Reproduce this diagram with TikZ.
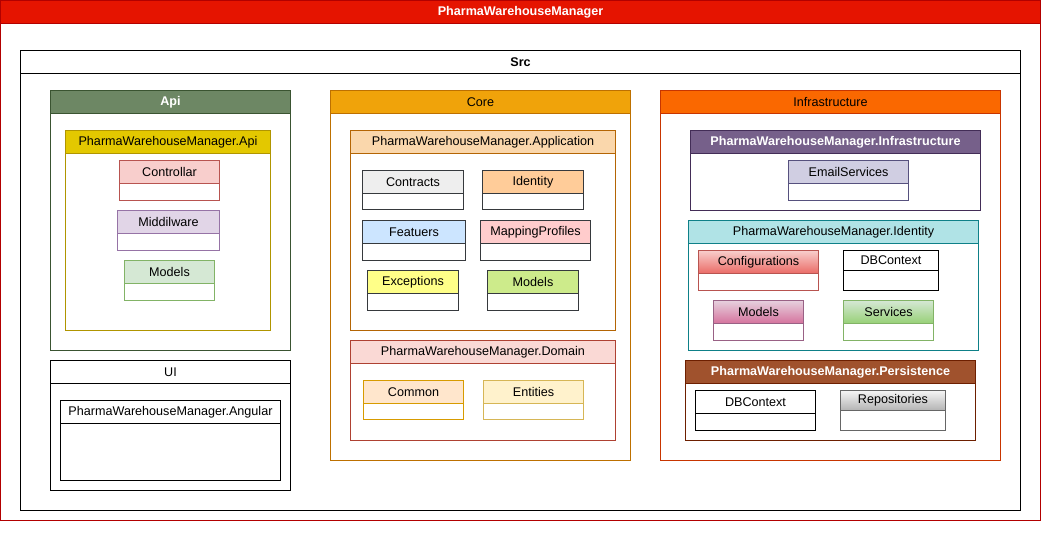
\documentclass[tikz,border=0pt]{standalone}
\usepackage{fontspec}
\setmainfont{Liberation Sans}
\usetikzlibrary{shadings}
\definecolor{cOuterF}{HTML}{E51400}\definecolor{cOuterS}{HTML}{B20000}
\definecolor{cApiF}{HTML}{6D8764}\definecolor{cApiS}{HTML}{3A5431}
\definecolor{cPApiF}{HTML}{E3C800}\definecolor{cPApiS}{HTML}{B09500}
\definecolor{cRedF}{HTML}{F8CECC}\definecolor{cRedS}{HTML}{B85450}
\definecolor{cPurF}{HTML}{E1D5E7}\definecolor{cPurS}{HTML}{9673A6}
\definecolor{cGrnF}{HTML}{D5E8D4}\definecolor{cGrnS}{HTML}{82B366}
\definecolor{cCoreF}{HTML}{F0A30A}\definecolor{cCoreS}{HTML}{BD7000}
\definecolor{cAppF}{HTML}{FAD7AC}\definecolor{cAppS}{HTML}{B46504}
\definecolor{cDark}{HTML}{36393D}
\definecolor{cGray}{HTML}{EEEEEE}\definecolor{cPeach}{HTML}{FFCC99}
\definecolor{cBlue}{HTML}{CCE5FF}\definecolor{cPink}{HTML}{FFCCCC}
\definecolor{cYel}{HTML}{FFFF88}\definecolor{cLime}{HTML}{CDEB8B}
\definecolor{cDomF}{HTML}{FAD9D5}\definecolor{cDomS}{HTML}{AE4132}
\definecolor{cComF}{HTML}{FFE6CC}\definecolor{cComS}{HTML}{D79B00}
\definecolor{cEntF}{HTML}{FFF2CC}\definecolor{cEntS}{HTML}{D6B656}
\definecolor{cInfF}{HTML}{FA6800}\definecolor{cInfS}{HTML}{C73500}
\definecolor{cPInfF}{HTML}{76608A}\definecolor{cPInfS}{HTML}{432D57}
\definecolor{cEmF}{HTML}{D0CEE2}\definecolor{cEmS}{HTML}{56517E}
\definecolor{cIdF}{HTML}{B0E3E6}\definecolor{cIdS}{HTML}{0E8088}
\definecolor{cConfB}{HTML}{EA6B66}
\definecolor{cMdT}{HTML}{E6D0DE}\definecolor{cMdB}{HTML}{D5739D}\definecolor{cMdS}{HTML}{996185}
\definecolor{cSvB}{HTML}{97D077}
\definecolor{cPerF}{HTML}{A0522D}\definecolor{cPerS}{HTML}{6D1F00}
\definecolor{cRepT}{HTML}{F5F5F5}\definecolor{cRepB}{HTML}{B3B3B3}\definecolor{cRepS}{HTML}{666666}
\newcommand{\boxfont}{\fontsize{12.6}{14}\selectfont}
\tikzset{
  boxbody/.style={anchor=north west, inner sep=0pt, outer sep=0pt, line width=1pt, fill=white, rectangle},
  boxhead/.style={anchor=north west, inner sep=0pt, outer sep=0pt, line width=1pt, rectangle, text=black,
    font=\boxfont},
  whitebold/.style={text=white, font=\boxfont\bfseries},
}
\newcommand{\cbox}[9]{%
  \node[boxbody, draw=#7, minimum width=#4pt, minimum height=#5pt] (#1) at (#2,#3) {};
  \node[boxhead, draw=#7, minimum width=#4pt, minimum height=#6pt, #8] (#1-h) at (#2,#3) {#9};
}
\begin{document}
\begin{tikzpicture}[x=1pt,y=-1pt]
\useasboundingbox[fill=white] (-0.5,-0.5) rectangle (1040.5,535.5);
% outer
\cbox{outer}{0}{0}{1040}{520}{23}{cOuterS}{fill=cOuterF, whitebold}{PharmaWarehouseManager}
\cbox{src}{20}{50}{1000}{460}{23}{black}{fill=white, font=\boxfont\bfseries}{Src}
% Api
\cbox{api}{50}{90}{240}{260}{23}{cApiS}{fill=cApiF, whitebold}{Api}
\cbox{pwmapi}{65}{130}{205}{200}{23}{cPApiS}{fill=cPApiF}{PharmaWarehouseManager.Api}
\cbox{ctrl}{119}{160}{100}{40}{23}{cRedS}{fill=cRedF}{Controllar}
\cbox{midw}{117}{210}{102}{40}{23}{cPurS}{fill=cPurF}{Middilware}
\cbox{mdlapi}{124}{260}{90}{40}{23}{cGrnS}{fill=cGrnF}{Models}
% UI
\cbox{ui}{50}{360}{240}{130}{23}{black}{fill=white}{UI}
\cbox{ang}{60}{400}{220}{80}{23}{black}{fill=white}{PharmaWarehouseManager.Angular}
% Core
\cbox{core}{330}{90}{300}{370}{23}{cCoreS}{fill=cCoreF}{Core}
\cbox{app}{350}{130}{265}{200}{23}{cAppS}{fill=cAppF}{PharmaWarehouseManager.Application}
\cbox{contr}{362}{170}{101}{39}{23}{cDark}{fill=cGray}{Contracts}
\cbox{ident}{482}{170}{101}{39}{23}{cDark}{fill=cPeach}{Identity}
\cbox{feat}{362}{220}{103}{40}{23}{cDark}{fill=cBlue}{Featuers}
\cbox{mapp}{480}{220}{110}{40}{23}{cDark}{fill=cPink}{MappingProfiles}
\cbox{exc}{367}{270}{91}{40}{23}{cDark}{fill=cYel}{Exceptions}
\cbox{mdlapp}{487}{270}{91}{40}{23}{cDark}{fill=cLime}{Models}
\cbox{dom}{350}{340}{265}{100}{23}{cDomS}{fill=cDomF}{PharmaWarehouseManager.Domain}
\cbox{common}{363}{380}{100}{39}{23}{cComS}{fill=cComF}{Common}
\cbox{ent}{483}{380}{100}{39}{23}{cEntS}{fill=cEntF}{Entities}
% Infrastructure
\cbox{infra}{660}{90}{340}{370}{23}{cInfS}{fill=cInfF}{Infrastructure}
\cbox{pwminf}{690}{130}{290}{80}{23}{cPInfS}{fill=cPInfF, whitebold}{PharmaWarehouseManager.Infrastructure}
\cbox{email}{788}{160}{120}{40}{23}{cEmS}{fill=cEmF}{EmailServices}
\cbox{pwmid}{688}{220}{290}{130}{23}{cIdS}{fill=cIdF}{PharmaWarehouseManager.Identity}
\cbox{conf}{698}{250}{120}{40}{23}{cRedS}{top color=cRedF, bottom color=cConfB}{Configurations}
\cbox{dbca}{843}{250}{95}{40}{20}{black}{fill=white}{DBContext}
\cbox{mdlid}{713}{300}{90}{40}{23}{cMdS}{top color=cMdT, bottom color=cMdB}{Models}
\cbox{serv}{843}{300}{90}{40}{23}{cGrnS}{top color=cGrnF, bottom color=cSvB}{Services}
\cbox{pers}{685}{360}{290}{80}{23}{cPerS}{fill=cPerF, whitebold}{PharmaWarehouseManager.Persistence}
\cbox{dbcb}{695}{390}{120}{40}{23}{black}{fill=white}{DBContext}
\cbox{repo}{840}{390}{105}{40}{20}{cRepS}{top color=cRepT, bottom color=cRepB}{Repositories}
\end{tikzpicture}
\end{document}
